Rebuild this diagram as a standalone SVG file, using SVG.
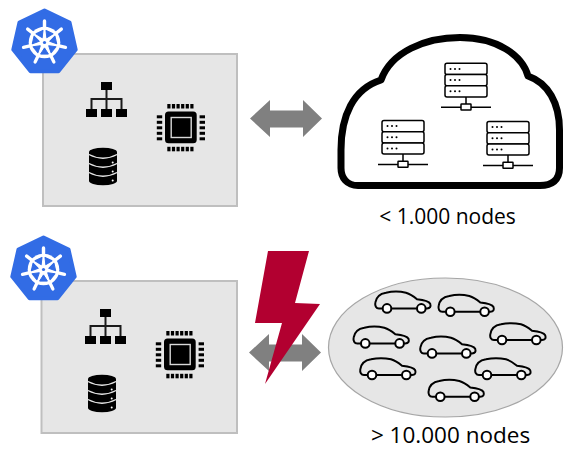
<svg xmlns="http://www.w3.org/2000/svg" xmlns:xlink="http://www.w3.org/1999/xlink" width="564" height="454" viewBox="0 0 564 454">
  <style>
    .panel { fill: #e6e6e6; stroke: #bfbfbf; stroke-width: 2; }
    .ink { fill: #000; }
    .wire { stroke: #1a1a1a; stroke-width: 2; fill: none; }
    .server-row { fill: #fff; stroke: #000; stroke-width: 1.5; }
    .server-line { stroke: #000; stroke-width: 1.5; fill: none; }
    .cloud { fill: #fff; stroke: #000; stroke-width: 7; stroke-linejoin: round; }
    .pool { fill: #e6e6e6; stroke: #a6a6a6; stroke-width: 1.2; }
    .car { fill: none; stroke: #000; stroke-width: 2; stroke-linejoin: round; stroke-linecap: round; }
    .wheel { fill: #fff; stroke: #000; stroke-width: 2; }
    .link { fill: #808080; }
    .bolt { fill: #b20030; }
    .label { font-family: "Open Sans", "Liberation Sans", sans-serif; fill: #000; text-anchor: middle; }
  </style>
  <defs>
    <!-- Kubernetes helm logo, centred on the origin -->
    <line id="spoke" x1="0" y1="-14" x2="0" y2="-21.5" stroke="#fff" stroke-width="3.4" stroke-linecap="round"/>
    <polygon id="hole" points="0,-5.4 3.9,-11.6 -3.9,-11.6" fill="#326ce5" stroke="#326ce5" stroke-width="1" stroke-linejoin="round" transform="rotate(25.714)"/>
    <g id="k8s">
      <polygon points="0,-32 25.02,-19.95 31.2,7.12 13.88,28.83 -13.88,28.83 -31.2,7.12 -25.02,-19.95" fill="#326ce5" stroke="#326ce5" stroke-width="4" stroke-linejoin="round"/>
      <circle r="15.8" fill="#fff"/>
      <use xlink:href="#hole"/>
      <use xlink:href="#hole" transform="rotate(51.429)"/>
      <use xlink:href="#hole" transform="rotate(102.857)"/>
      <use xlink:href="#hole" transform="rotate(154.286)"/>
      <use xlink:href="#hole" transform="rotate(205.714)"/>
      <use xlink:href="#hole" transform="rotate(257.143)"/>
      <use xlink:href="#hole" transform="rotate(308.571)"/>
      <use xlink:href="#spoke"/>
      <use xlink:href="#spoke" transform="rotate(51.429)"/>
      <use xlink:href="#spoke" transform="rotate(102.857)"/>
      <use xlink:href="#spoke" transform="rotate(154.286)"/>
      <use xlink:href="#spoke" transform="rotate(205.714)"/>
      <use xlink:href="#spoke" transform="rotate(257.143)"/>
      <use xlink:href="#spoke" transform="rotate(308.571)"/>
      <circle r="1.6" fill="#326ce5"/>
    </g>

    <!-- control plane contents: hierarchy, database, processor -->
    <g id="hierarchy">
      <rect class="ink" x="101" y="82" width="11" height="8"/>
      <path class="wire" d="M106.5 90 V109 M91.5 109 V99 H121.5 V109"/>
      <rect class="ink" x="86" y="109" width="11" height="8"/>
      <rect class="ink" x="101" y="109" width="11" height="8"/>
      <rect class="ink" x="116" y="109" width="11" height="8"/>
    </g>
    <g id="database">
      <rect class="ink" x="89" y="152" width="28" height="29"/>
      <ellipse class="ink" cx="103" cy="152" rx="14" ry="4.2"/>
      <ellipse class="ink" cx="103" cy="181" rx="14" ry="4.2"/>
      <path d="M89 154.5 Q103 162 117 154.5 M89 163.5 Q103 171 117 163.5 M89 172.5 Q103 180 117 172.5" stroke="#e6e6e6" stroke-width="1.3" fill="none"/>
      <circle cx="112.7" cy="162.5" r="1" fill="#fff"/>
      <circle cx="112.7" cy="171.5" r="1" fill="#fff"/>
      <circle cx="112.7" cy="180.5" r="1" fill="#fff"/>
    </g>
    <g id="chip">
      <rect class="ink" x="165" y="111.5" width="31.7" height="31.8" rx="3.5"/>
      <rect x="171.2" y="117.5" width="20" height="20" fill="#000" stroke="#d9d9d9" stroke-width="1.4"/>
      <g class="ink">
        <rect x="167.3" y="104" width="3.2" height="4.5"/><rect x="171.9" y="104" width="3.2" height="4.5"/>
        <rect x="176.5" y="104" width="3.2" height="4.5"/><rect x="181.1" y="104" width="3.2" height="4.5"/>
        <rect x="185.7" y="104" width="3.2" height="4.5"/><rect x="190.3" y="104" width="3.2" height="4.5"/>
        <rect x="167.3" y="146.8" width="3.2" height="4.5"/><rect x="171.9" y="146.8" width="3.2" height="4.5"/>
        <rect x="176.5" y="146.8" width="3.2" height="4.5"/><rect x="181.1" y="146.8" width="3.2" height="4.5"/>
        <rect x="185.7" y="146.8" width="3.2" height="4.5"/><rect x="190.3" y="146.8" width="3.2" height="4.5"/>
        <rect x="156.8" y="115.3" width="5.4" height="3"/><rect x="156.8" y="120.8" width="5.4" height="3"/>
        <rect x="156.8" y="126.3" width="5.4" height="3"/><rect x="156.8" y="131.8" width="5.4" height="3"/>
        <rect x="156.8" y="137.3" width="5.4" height="3"/>
        <rect x="199.6" y="115.3" width="5.4" height="3"/><rect x="199.6" y="120.8" width="5.4" height="3"/>
        <rect x="199.6" y="126.3" width="5.4" height="3"/><rect x="199.6" y="131.8" width="5.4" height="3"/>
        <rect x="199.6" y="137.3" width="5.4" height="3"/>
      </g>
    </g>

    <!-- rack server with network tap, origin at the rack's top-left corner -->
    <g id="server">
      <rect class="server-row" x="0" y="0" width="42" height="11.2" rx="2"/>
      <rect class="server-row" x="0" y="11.2" width="42" height="11.2" rx="2"/>
      <rect class="server-row" x="0" y="22.4" width="42" height="11.2" rx="2"/>
      <g class="ink">
        <circle cx="5.5" cy="5.6" r="1"/><circle cx="10" cy="5.6" r="1"/><circle cx="14.5" cy="5.6" r="1"/>
        <circle cx="5.5" cy="16.8" r="1"/><circle cx="10" cy="16.8" r="1"/><circle cx="14.5" cy="16.8" r="1"/>
        <circle cx="5.5" cy="28" r="1"/><circle cx="10" cy="28" r="1"/><circle cx="14.5" cy="28" r="1"/>
      </g>
      <path class="server-line" d="M21 33.6 V40.7 M-4 44 H16 M26 44 H46"/>
      <rect class="server-row" x="16" y="40.7" width="10" height="6" rx="0.5"/>
    </g>

    <!-- car in side view -->
    <g id="car">
      <path class="car" d="M8.7 18.7 H5 C2 18.7 0.8 16 1.3 13 C2 8 6 4 12 3 C18 1.6 26 1.6 32 3 C37 4.5 40 7 43 9.5 C50 10.3 55 11.6 56.2 14 C57.2 17 56 18.7 53 18.7 H51.6 M17.3 18.7 H43"/>
      <circle class="wheel" cx="13" cy="18.7" r="4.3"/>
      <circle class="wheel" cx="47.3" cy="18.7" r="4.3"/>
    </g>

    <polygon id="double-arrow" points="0,18.5 20,0 20,10.5 53,10.5 53,0 72,18.5 53,37 53,27.5 20,27.5 20,37"/>
  </defs>

  <!-- upper control plane -->
  <g id="control-plane-small">
    <rect class="panel" x="43" y="54" width="194" height="152"/>
    <use xlink:href="#hierarchy"/>
    <use xlink:href="#database"/>
    <use xlink:href="#chip"/>
    <use xlink:href="#k8s" transform="translate(44.5 42.5)"/>
  </g>

  <!-- cloud cluster -->
  <g id="cloud-cluster">
    <path class="cloud" d="M341 150 C341 116 353 89 381 80 C391 52 425 37.5 460 37.5 C497 37.5 522 55 528 76 C548 83 559.5 103 559.5 130 L559.5 168 C559.5 180 552 185.5 540 185.5 L358 185.5 C347 185.5 341 178 341 168 Z"/>
    <use xlink:href="#server" transform="translate(445 63.3)"/>
    <use xlink:href="#server" transform="translate(382 120.5)"/>
    <use xlink:href="#server" transform="translate(487 121.5)"/>
    <text class="label" x="447.5" y="224" font-size="21">&lt; 1.000 nodes</text>
  </g>

  <!-- lower control plane -->
  <g id="control-plane-large">
    <rect class="panel" x="41.5" y="281" width="195.5" height="152"/>
    <g transform="translate(-1 227)">
      <use xlink:href="#hierarchy"/>
      <use xlink:href="#database"/>
      <use xlink:href="#chip"/>
    </g>
    <use xlink:href="#k8s" transform="translate(43.5 269.5)"/>
  </g>

  <!-- vehicle fleet -->
  <g id="vehicle-cluster">
    <ellipse class="pool" cx="445.5" cy="347.5" rx="117" ry="69.5"/>
    <use xlink:href="#car" transform="translate(374 289.7)"/>
    <use xlink:href="#car" transform="translate(437.3 293)"/>
    <use xlink:href="#car" transform="translate(352.3 324.7)"/>
    <use xlink:href="#car" transform="translate(489 321.3)"/>
    <use xlink:href="#car" transform="translate(419 334.7)"/>
    <use xlink:href="#car" transform="translate(359 356.3)"/>
    <use xlink:href="#car" transform="translate(474 356.3)"/>
    <use xlink:href="#car" transform="translate(427.3 378)"/>
    <text class="label" x="450.5" y="443" font-size="22.5">&gt; 10.000 nodes</text>
  </g>

  <!-- connectors -->
  <g id="connectors">
    <use xlink:href="#double-arrow" class="link" transform="translate(250 100)"/>
    <use xlink:href="#double-arrow" class="link" transform="translate(249 334)"/>
  </g>

  <!-- failure marker over the lower link -->
  <g id="overload">
    <polygon class="bolt" points="268,251 309,251 295,303 320,304 265,384 282,323 255,323"/>
  </g>
</svg>
